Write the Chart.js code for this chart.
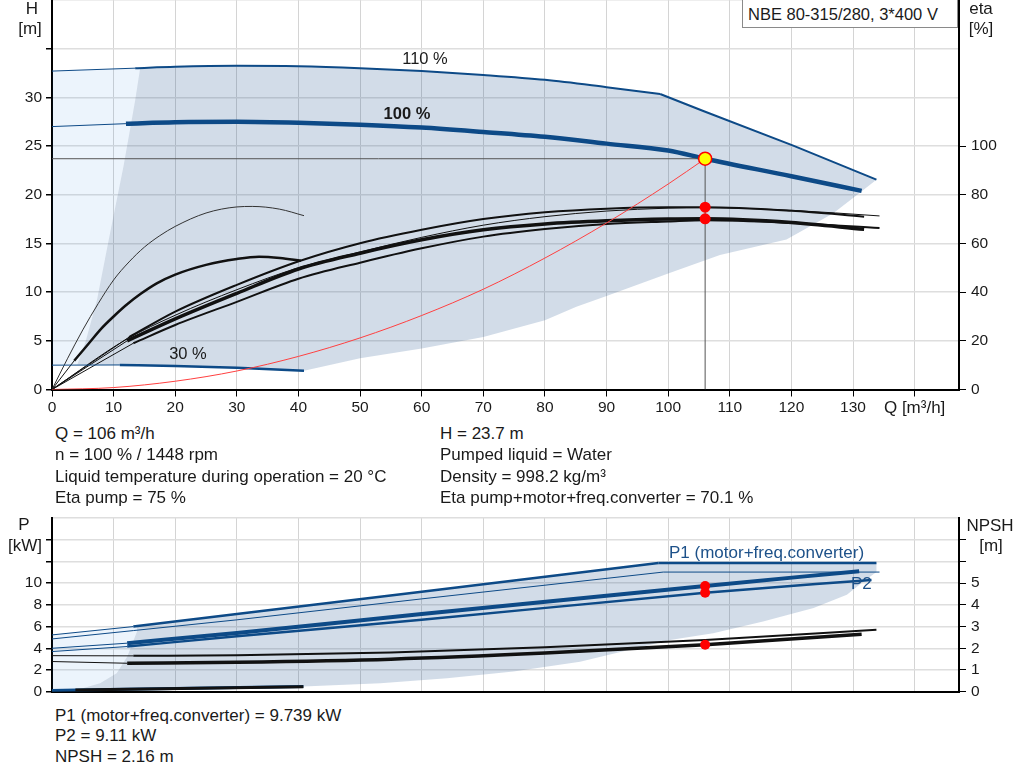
<!DOCTYPE html>
<html>
<head>
<meta charset="utf-8">
<script src="https://cdn.jsdelivr.net/npm/chart.js@4.4.1/dist/chart.umd.min.js"></script>
<style>
body { margin: 0; background: #fff; font-family: "Liberation Sans", Arial, sans-serif; }
#wrap { position: relative; width: 1024px; height: 781px; overflow: hidden; }
canvas { position: absolute; left: 0; }
.t { position: absolute; font-size: 17px; line-height: 18px; color: #1a1a1a; white-space: nowrap; z-index: 2; }
.s { font-size: 16.5px; }
.c { text-align: center; }
.blue { color: #1d5189; }
#titleBox { position: absolute; left: 742px; top: 0; width: 214px; height: 27px; border: 1px solid #8a8a8a; border-top: none; background: #fff; z-index: 2; }
</style>
</head>
<body>
<div id="wrap">
  <canvas id="topChart" width="1024" height="420" style="top:0"></canvas>
  <canvas id="botChart" width="1024" height="200" style="top:505px"></canvas>

  <div id="titleBox"></div>
  <div class="t s" style="left:748px;top:5px">NBE 80-315/280, 3*400 V</div>

  <div class="t c" style="left:12px;top:0;width:40px">H</div>
  <div class="t c" style="left:10px;top:20px;width:40px">[m]</div>
  <div class="t c" style="left:961px;top:0;width:40px">eta</div>
  <div class="t c" style="left:961px;top:20px;width:40px">[%]</div>

  <div class="t c s" style="left:395px;top:49px;width:60px">110 %</div>
  <div class="t c s" style="left:377px;top:104px;width:60px;font-weight:bold">100 %</div>
  <div class="t c s" style="left:163px;top:344px;width:50px">30 %</div>

  <div class="t" style="left:55px;top:425px">Q = 106 m³/h</div>
  <div class="t" style="left:55px;top:446px">n = 100 % / 1448 rpm</div>
  <div class="t" style="left:55px;top:468px">Liquid temperature during operation = 20 °C</div>
  <div class="t" style="left:55px;top:489px">Eta pump = 75 %</div>
  <div class="t" style="left:440px;top:425px">H = 23.7 m</div>
  <div class="t" style="left:440px;top:446px">Pumped liquid = Water</div>
  <div class="t" style="left:440px;top:468px">Density = 998.2 kg/m³</div>
  <div class="t" style="left:440px;top:489px">Eta pump+motor+freq.converter = 70.1 %</div>

  <div class="t c" style="left:4px;top:516px;width:40px">P</div>
  <div class="t c" style="left:0;top:537px;width:50px">[kW]</div>
  <div class="t c" style="left:962px;top:517px;width:56px">NPSH</div>
  <div class="t c" style="left:971px;top:537px;width:40px">[m]</div>

  <div class="t blue" style="left:669px;top:544px">P1 (motor+freq.converter)</div>
  <div class="t blue" style="left:851px;top:575px">P2</div>

  <div class="t" style="left:55px;top:707px">P1 (motor+freq.converter) = 9.739 kW</div>
  <div class="t" style="left:55px;top:727px">P2 = 9.11 kW</div>
  <div class="t" style="left:55px;top:748px">NPSH = 2.16 m</div>
</div>

<script>
// --- Axis ticks ---
const qTicks = [0, 10, 20, 30, 40, 50, 60, 70, 80, 90, 100, 110, 120, 130, 140];
const qTickLabels = ['0', '10', '20', '30', '40', '50', '60', '70', '80', '90', '100', '110', '120', '130', 'Q [m³/h]'];
const hTicks = [0, 5, 10, 15, 20, 25, 30, 35, 40];
const hTickLabels = ['0', '5', '10', '15', '20', '25', '30', '', ''];
const etaTicks = [0, 20, 40, 60, 80, 100, 120, 140, 160];
const etaTickLabels = ['0', '20', '40', '60', '80', '100', '', '', ''];
const pTicks = [0, 2, 4, 6, 8, 10, 12, 14, 16];
const pTickLabels = ['0', '2', '4', '6', '8', '10', '', '', ''];
const npshTicks = [0, 1, 2, 3, 4, 5, 6, 7, 8];
const npshTickLabels = ['0', '1', '2', '3', '4', '5', '', '', ''];

// --- Head curves [m] ---
const q110Lead = [0, 13.5];
const h110Lead = [32.7, 33.0];
const q110 = [13.5, 20, 30, 40, 50, 60, 70, 80, 90, 98.7];
const h110 = [33.0, 33.15, 33.25, 33.2, 33.0, 32.7, 32.3, 31.8, 31.05, 30.35];
const q110Max = [98.7, 105.7, 120.3, 133.8];
const h110Max = [30.35, 28.6, 25.05, 21.55];
const q100Lead = [0, 12];
const h100Lead = [27.0, 27.3];
const q100 = [12, 20, 30, 40, 50, 60, 70, 80, 90, 100, 106, 120, 131.4];
const h100 = [27.3, 27.45, 27.5, 27.4, 27.2, 26.9, 26.45, 25.95, 25.25, 24.55, 23.7, 21.9, 20.4];
const q30Lead = [0, 11];
const h30Lead = [2.5, 2.52];
const q30 = [11, 20, 30, 40.9];
const h30 = [2.52, 2.42, 2.24, 1.93];

// system curve
const qSys = [0, 10, 20, 30, 40, 50, 60, 70, 80, 90, 100, 106];
const hSys = [0, 0.2, 0.85, 1.9, 3.4, 5.3, 7.6, 10.3, 13.5, 17.1, 21.1, 23.7];

// operating range outlines
const qRangeH = [14.3, 20, 30, 40, 50, 60, 70, 80, 90, 98.7, 105.7, 120.3, 133.8, 131.1, 126.8, 119.2, 108.4, 100, 90, 85.1, 80, 70, 60, 50, 40.9, 30, 20, 11, 4.1, 5.4, 7.3, 9.4, 11.6, 13.5];
const hRangeH = [33.0, 33.15, 33.25, 33.2, 33.0, 32.7, 32.3, 31.8, 31.05, 30.35, 28.6, 25.05, 21.55, 20.2, 18.1, 15.4, 13.8, 11.9, 9.6, 8.5, 7.1, 5.4, 4.2, 3.2, 1.93, 2.24, 2.42, 2.52, 2.55, 4.8, 9.2, 16.0, 22.9, 29.7];
const qLowH = [0, 4.1, 5.4, 7.3, 9.4, 11.6, 13.5, 14.3, 0];
const hLowH = [2.5, 2.55, 4.8, 9.2, 16.0, 22.9, 29.7, 33.0, 32.7];

// --- Efficiency curves [%] ---
const qEta1Lead = [0, 12.5];
const eta1Lead = [0, 21.5];
const qEta1 = [12.5, 20, 30, 40.3, 50, 60, 70, 80, 90, 100, 106, 120, 131.8];
const eta1 = [21.5, 32, 43, 52.9, 60.1, 65.6, 70, 72.8, 74.3, 74.9, 74.9, 73.4, 71.0];
const qEta2 = [0, 12, 20, 30, 40, 50, 60, 70, 80, 90, 100, 106, 120, 134.3];
const eta2 = [0, 20.5, 30.5, 41, 50, 56.5, 62.5, 67.5, 71, 73.3, 74.5, 74.7, 73.6, 71.3];
const qEta3Lead = [0, 12.2];
const eta3Lead = [0, 20];
const qEta3 = [12.2, 20, 30, 40, 50, 60, 70, 80, 90, 100, 106, 120, 131.8];
const eta3 = [20, 29, 39.5, 49.5, 56, 61.5, 65.6, 68, 69.3, 70, 70.1, 68.6, 65.8];
const qEta4Lead = [0, 13.2];
const eta4Lead = [0, 19];
const qEta4 = [13.2, 20, 30, 40, 50, 60, 70, 80, 90, 100, 106, 120, 134.3];
const eta4 = [19, 26.5, 36, 45.5, 52.1, 58, 62.8, 65.9, 68, 69, 69.5, 68.4, 66.3];
const qEta30 = [0, 2.5, 5, 7.5, 10, 12.5, 15, 17.5, 20, 25, 30, 32.5, 36.9, 40.9];
const eta30 = [0, 12.6, 24.5, 35.3, 45, 52.4, 58.5, 63.2, 67, 72.5, 75, 75.2, 74.1, 71.4];
const qEta30TLead = [0, 3.6];
const eta30TLead = [0, 11.8];
const qEta30T = [3.6, 6, 8, 10, 12, 14.4, 17, 20, 25, 30, 33.6, 37, 40.4];
const eta30T = [11.8, 19.0, 25, 30, 34.6, 39.3, 43.6, 47.2, 51.2, 53.6, 54.5, 54.0, 52.9];

// duty point
const dutyQ = [106];
const dutyH = [23.7];
const dutyEta = [74.9, 70.1];

// --- Power curves [kW] ---
const qP1aLead = [0, 13.2];
const p1aLead = [5.23, 6.0];
const qP1a = [13.2, 30, 60, 98.4];
const p1a = [6.0, 7.15, 9.2, 11.85];
const qP1aMax = [98.4, 133.8];
const p1aMax = [11.85, 11.85];
const qP2a = [0, 13.2, 30, 60, 99.2];
const p2a = [4.86, 5.63, 6.62, 8.55, 11.02];
const qP2aMax = [99.2, 134.3];
const p2aMax = [11.02, 11.02];
const qP1Lead = [0, 12.2];
const p1Lead = [4.0, 4.47];
const qP1 = [12.2, 30, 60, 106, 131];
const p1 = [4.47, 5.4, 7.15, 9.74, 11.1];
const qP2Lead = [0, 12.2];
const p2Lead = [3.7, 4.16];
const qP2 = [12.2, 30, 60, 106, 133];
const p2 = [4.16, 5.1, 6.62, 9.11, 10.3];
const qP30 = [0, 4, 40.8];
const p30 = [0.12, 0.16, 0.48];

// --- NPSH curves [m] ---
const qN1Lead = [0, 13.2];
const n1Lead = [1.66, 1.65];
const qN1 = [13.2, 30, 55, 80, 106, 133.8];
const n1 = [1.65, 1.68, 1.8, 2.05, 2.38, 2.85];
const qN2Lead = [0, 12.2];
const n2Lead = [1.39, 1.31];
const qN2 = [12.2, 30, 55, 80, 106, 131.4];
const n2 = [1.31, 1.36, 1.5, 1.78, 2.16, 2.65];
const qN30 = [3.8, 40.8];
const n30 = [0.08, 0.23];

// duty values below
const dutyP = [9.739, 9.11];
const dutyNpsh = [2.16];

// power range outlines
const qRangeP = [13.8, 30, 60, 98.4, 133.8, 133.8, 131.7, 129, 123.6, 115.4, 107.3, 100.3, 85.7, 74.9, 64.1, 53.3, 40.8, 4, 7.8, 10.5, 12.2, 13.8];
const pRangeP = [6.05, 7.15, 9.2, 11.85, 11.85, 11.02, 10.16, 8.93, 7.7, 6.46, 5.39, 4.77, 2.77, 1.85, 1.24, 0.78, 0.48, 0.16, 0.78, 1.7, 3.23, 5.54];
const qLowP = [0, 4, 7.8, 10.5, 12.2, 13.8, 13.8, 0];
const pLowP = [0.12, 0.16, 0.78, 1.7, 3.23, 5.54, 6.05, 5.23];

const BLUE = '#0d4a87';
const BLACK = '#111';
const SHADE = 'rgba(30, 80, 140, 0.2)';
const SHADE_LIGHT = 'rgba(0, 110, 220, 0.075)';

Chart.defaults.font.family = '"Liberation Sans", Arial, sans-serif';
Chart.defaults.font.size = 15.5;
Chart.defaults.color = '#1a1a1a';

function xy(qs, vs) {
    return qs.map((q, i) => ({ x: q, y: vs[i] }));
}

function curve(qs, vs, color, width, axis) {
    return {
        data: xy(qs, vs),
        borderColor: color,
        borderWidth: width,
        yAxisID: axis,
        pointRadius: 0,
        fill: false,
        cubicInterpolationMode: 'monotone'
    };
}

function straight(qs, vs, color, width, axis) {
    const ds = curve(qs, vs, color, width, axis);
    ds.cubicInterpolationMode = 'default';
    ds.tension = 0;
    return ds;
}

function area(qs, vs, color, axis) {
    return { data: xy(qs, vs), showLine: false, pointRadius: 0, yAxisID: axis, areaColor: color };
}

function dots(qs, vs, axis, radius, fillColor, edgeColor, edge) {
    return {
        data: xy(qs, vs),
        showLine: false,
        yAxisID: axis,
        pointRadius: radius,
        pointBackgroundColor: fillColor,
        pointBorderColor: edgeColor,
        pointBorderWidth: edge
    };
}

// fills the outline datasets under the curves
const areaFill = {
    id: 'areaFill',
    beforeDatasetsDraw(chart) {
        const ctx = chart.ctx;
        chart.data.datasets.forEach((ds, i) => {
            if (!ds.areaColor) return;
            const pts = chart.getDatasetMeta(i).data;
            ctx.save();
            ctx.beginPath();
            pts.forEach((p, k) => k ? ctx.lineTo(p.x, p.y) : ctx.moveTo(p.x, p.y));
            ctx.closePath();
            ctx.fillStyle = ds.areaColor;
            ctx.fill();
            ctx.restore();
        });
    }
};

function fixedTicks(values) {
    return (scale) => { scale.ticks = values.map(v => ({ value: v })); };
}

function tickMarks(count) {
    return (ctx) => ctx.index < count ? '#000' : 'rgba(0,0,0,0)';
}

function xScale(showLabels, height) {
    return {
        type: 'linear',
        min: 0,
        max: 147.2,
        afterBuildTicks: fixedTicks(qTicks),
        afterFit: (s) => { s.height = height; s.paddingLeft = 0; s.paddingRight = 0; },
        ticks: {
            display: showLabels,
            maxRotation: 0,
            autoSkip: false,
            padding: 2,
            font: (ctx) => ({ size: ctx.index === qTicks.length - 1 ? 17 : 15.5 }),
            callback: (v, i) => qTickLabels[i]
        },
        grid: { color: '#d4d4d4', lineWidth: 1, tickColor: '#000', tickLength: 7, drawTicks: showLabels },
        border: { color: '#000', width: 2 }
    };
}

function yLeft(max, ticks, labels, marks) {
    return {
        type: 'linear',
        position: 'left',
        min: 0,
        max: max,
        afterBuildTicks: fixedTicks(ticks),
        afterFit: (s) => { s.width = 52; s.paddingTop = 0; s.paddingBottom = 0; },
        ticks: { padding: 4, autoSkip: false, callback: (v, i) => labels[i] },
        grid: { color: '#dedede', lineWidth: 1.5, tickColor: tickMarks(marks), tickLength: 6 },
        border: { color: '#000', width: 2 }
    };
}

function yRight(max, ticks, labels, marks) {
    return {
        type: 'linear',
        position: 'right',
        min: 0,
        max: max,
        afterBuildTicks: fixedTicks(ticks),
        afterFit: (s) => { s.width = 65; s.paddingTop = 0; s.paddingBottom = 0; },
        ticks: { padding: 5, autoSkip: false, callback: (v, i) => labels[i] },
        grid: { drawOnChartArea: false, tickColor: tickMarks(marks), tickLength: 7 },
        border: { color: '#000', width: 2 }
    };
}

const baseOptions = {
    responsive: false,
    animation: false,
    events: [],
    plugins: { legend: { display: false }, tooltip: { enabled: false } }
};

// --- Q-H / eta chart ---
new Chart(document.getElementById('topChart'), {
    type: 'line',
    plugins: [areaFill],
    data: {
        datasets: [
            dots(dutyQ, dutyH, 'y', 6.5, '#ffff00', '#ff0000', 1.5),
            dots([dutyQ[0], dutyQ[0]], dutyEta, 'y2', 5.5, '#ff0000', '#ff0000', 0),
            straight([0, dutyQ[0]], [dutyH[0], dutyH[0]], '#555', 1, 'y'),
            straight([dutyQ[0], dutyQ[0]], [0, dutyH[0]], '#555', 1, 'y'),
            curve(qSys, hSys, '#ff4040', 1, 'y'),
            curve(q110Lead, h110Lead, BLUE, 1, 'y'),
            curve(q110, h110, BLUE, 2, 'y'),
            straight(q110Max, h110Max, BLUE, 2, 'y'),
            curve(q100Lead, h100Lead, BLUE, 1, 'y'),
            curve(q100, h100, BLUE, 4.5, 'y'),
            curve(q30Lead, h30Lead, BLUE, 1, 'y'),
            curve(q30, h30, BLUE, 2.5, 'y'),
            straight(qEta1Lead, eta1Lead, BLACK, 1, 'y2'),
            curve(qEta1, eta1, BLACK, 2, 'y2'),
            curve(qEta2, eta2, BLACK, 1, 'y2'),
            straight(qEta3Lead, eta3Lead, BLACK, 1, 'y2'),
            curve(qEta3, eta3, BLACK, 3.5, 'y2'),
            straight(qEta4Lead, eta4Lead, BLACK, 1, 'y2'),
            curve(qEta4, eta4, BLACK, 2, 'y2'),
            curve(qEta30, eta30, '#333', 1, 'y2'),
            straight(qEta30TLead, eta30TLead, BLACK, 1, 'y2'),
            curve(qEta30T, eta30T, BLACK, 2.5, 'y2'),
            area(qRangeH, hRangeH, SHADE, 'y'),
            area(qLowH, hLowH, SHADE_LIGHT, 'y')
        ]
    },
    options: {
        ...baseOptions,
        layout: { autoPadding: false, padding: { top: 0, left: 0, right: 0, bottom: 0 } },
        scales: {
            x: xScale(true, 30.5),
            y: yLeft(40, hTicks, hTickLabels, 8),
            y2: yRight(160, etaTicks, etaTickLabels, 6)
        }
    }
});

// --- P / NPSH chart ---
new Chart(document.getElementById('botChart'), {
    type: 'line',
    plugins: [areaFill],
    data: {
        datasets: [
            dots([dutyQ[0], dutyQ[0]], dutyP, 'y', 5, '#ff0000', '#ff0000', 0),
            dots(dutyQ, dutyNpsh, 'y2', 5, '#ff0000', '#ff0000', 0),
            straight(qP1aLead, p1aLead, BLUE, 1, 'y'),
            straight(qP1a, p1a, BLUE, 2.5, 'y'),
            straight(qP1aMax, p1aMax, BLUE, 2.5, 'y'),
            straight(qP2a, p2a, BLUE, 1, 'y'),
            straight(qP2aMax, p2aMax, BLUE, 1, 'y'),
            straight(qP1Lead, p1Lead, BLUE, 1, 'y'),
            curve(qP1, p1, BLUE, 4, 'y'),
            straight(qP2Lead, p2Lead, BLUE, 1, 'y'),
            curve(qP2, p2, BLUE, 2.5, 'y'),
            straight(qN1Lead, n1Lead, BLACK, 1, 'y2'),
            curve(qN1, n1, BLACK, 2, 'y2'),
            straight(qN2Lead, n2Lead, BLACK, 1, 'y2'),
            curve(qN2, n2, BLACK, 3.5, 'y2'),
            straight(qN30, n30, BLACK, 3, 'y2'),
            straight(qP30, p30, BLUE, 3, 'y'),
            area(qRangeP, pRangeP, SHADE, 'y'),
            area(qLowP, pLowP, SHADE_LIGHT, 'y')
        ]
    },
    options: {
        ...baseOptions,
        layout: { autoPadding: false, padding: { top: 13, left: 0, right: 0, bottom: 0 } },
        scales: {
            x: xScale(false, 13.3),
            y: yLeft(16, pTicks, pTickLabels, 8),
            y2: yRight(8, npshTicks, npshTickLabels, 8)
        }
    }
});
</script>
</body>
</html>
